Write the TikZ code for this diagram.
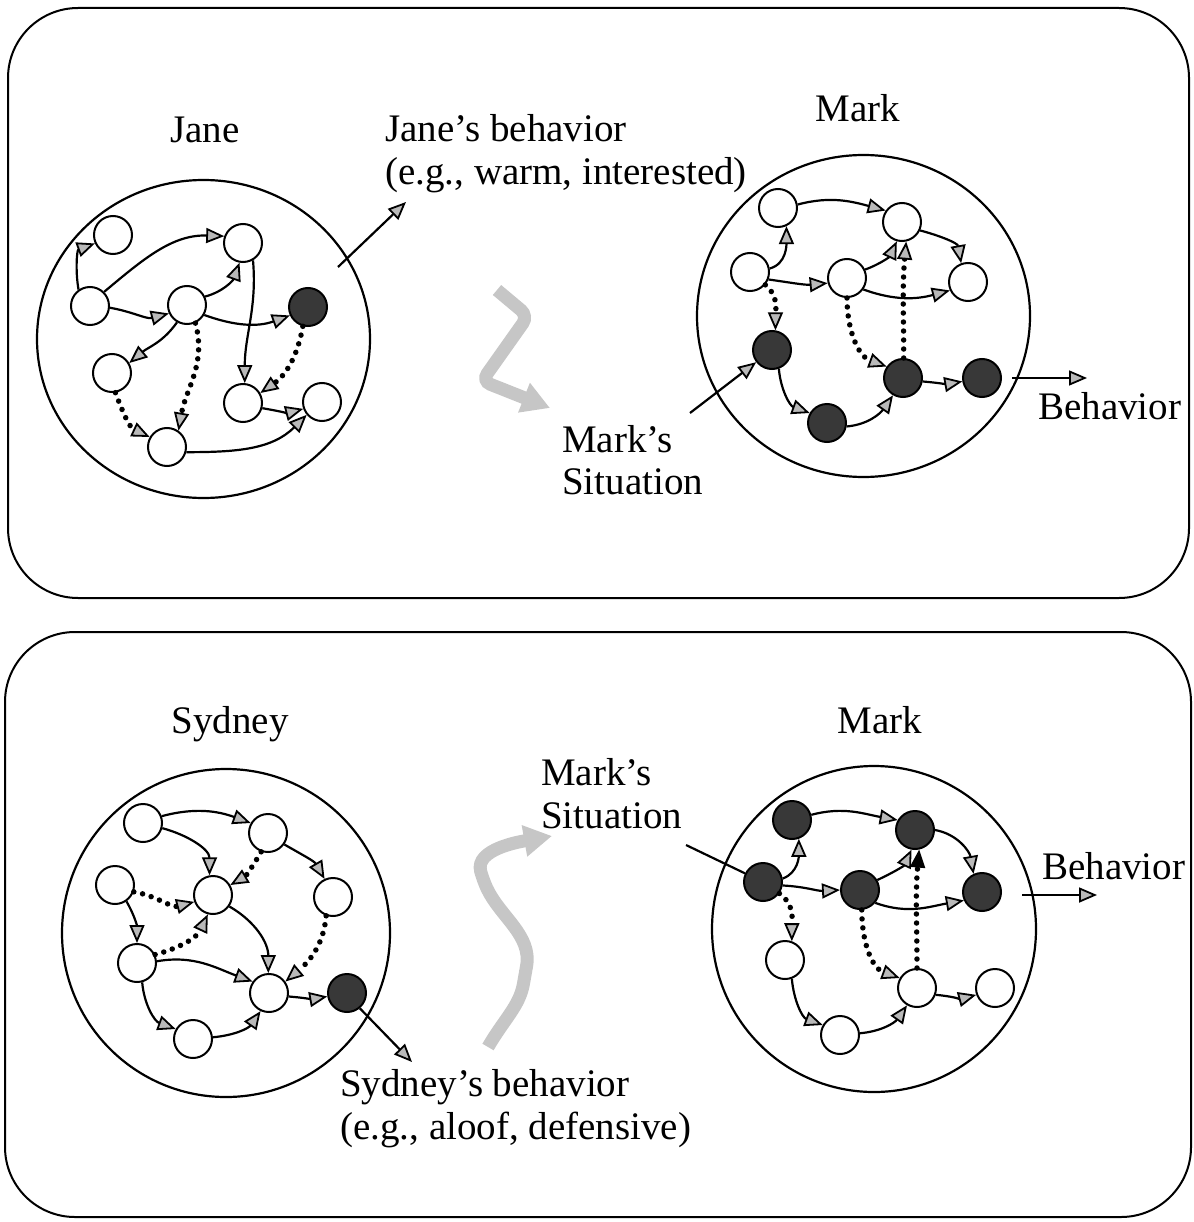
\documentclass[tikz,border=0pt]{standalone}
\usepackage{fontspec}
\setmainfont{Liberation Serif}
\usetikzlibrary{arrows.meta,shapes.geometric}
\begin{document}
\begin{tikzpicture}[x=1pt,y=1pt,
  >={Triangle[length=18pt,width=15pt,fill=gray!55,line width=1.8pt]},
  panel/.style={draw,line width=2pt,rounded corners=70pt},
  bigc/.style={draw,ellipse,line width=2.2pt,inner sep=0pt},
  sn/.style={draw,circle,minimum size=38pt,inner sep=0pt,line width=2pt,fill=white},
  dn/.style={sn,fill=black!78},
  edge/.style={draw,line width=2.2pt,->},
  dotedge/.style={draw,line width=5.5pt,dash pattern=on 0pt off 9pt,line cap=round,->},
  plainline/.style={draw,line width=2.2pt},
  wavy/.style={draw=gray!45,line width=13pt,rounded corners=9pt,-{Triangle[length=28pt,width=30pt,fill=gray!45]}},
  txt/.style={font=\fontsize{39}{44}\selectfont,inner sep=0pt}]
\useasboundingbox (0,0) rectangle (1193,-1222);

% panels
\draw[panel] (8,-8) rectangle (1189,-598);
\draw[panel] (5,-632) rectangle (1191,-1217);

% big circles
\node[bigc,minimum width=333pt,minimum height=318pt] (janec) at (203.5,-339) {};
\node[bigc,minimum width=333pt,minimum height=322pt] (markc) at (863.5,-316) {};
\node[bigc,minimum width=328pt,minimum height=328pt] (sydc) at (226,-933) {};
\node[bigc,minimum width=324pt,minimum height=326pt] (markd) at (874,-929) {};

% texts top
\node[txt,anchor=base] (tjane) at (205,-143) {Jane};
\node[txt,anchor=base west] (tjb1) at (385,-142) {Jane’s behavior};
\node[txt,anchor=base west] (tjb2) at (385,-185) {(e.g., warm, interested)};
\node[txt,anchor=base] (tmark) at (858,-122) {Mark};
\node[txt,anchor=base west] (tms1) at (562,-452) {Mark’s};
\node[txt,anchor=base west] (tms2) at (562,-494) {Situation};
\node[txt,anchor=base west] (tbeh) at (1038,-419) {Behavior};
% texts bottom
\node[txt,anchor=base] (tsyd) at (230,-733) {Sydney};
\node[txt,anchor=base] (tmark2) at (880,-733) {Mark};
\node[txt,anchor=base west] (tms3) at (541,-785) {Mark’s};
\node[txt,anchor=base west] (tms4) at (541,-828) {Situation};
\node[txt,anchor=base west] (tbeh2) at (1042,-879) {Behavior};
\node[txt,anchor=base west] (tsb1) at (340,-1096) {Sydney’s behavior};
\node[txt,anchor=base west] (tsb2) at (340,-1139) {(e.g., aloof, defensive)};

% Jane nodes
\node[sn] (J1) at (113,-235) {};
\node[sn] (J2) at (243,-243) {};
\node[sn] (J3) at (90,-306) {};
\node[sn] (J4) at (187,-305) {};
\node[dn] (J5) at (308,-307) {};
\node[sn] (J6) at (112,-373) {};
\node[sn] (J7) at (243,-403) {};
\node[sn] (J8) at (322,-402) {};
\node[sn] (J9) at (167,-447) {};
\draw[edge] (J3.125) to[out=100,in=200] (J1.205);
\draw[edge] (J3.45) to[out=40,in=178] (J2.160);
\draw[edge] (J3.-5) to[out=-10,in=195] (J4.205);
\draw[edge] (J4.25) to[out=15,in=250] (J2.260);
\draw[edge] (J4.-30) to[out=-20,in=200] (J5.205);
\draw[edge] (J4.240) to[out=235,in=40] (J6.30);
\draw[dotedge] (J4.-65) to[out=-75,in=80] (J9.55);
\draw[edge] (J2.-60) to[out=-85,in=90] (J7.85);
\draw[dotedge] (J5.255) to[out=-100,in=35] (J7.30);
\draw[dotedge] (J6.-80) to[out=-70,in=155] (J9.150);
\draw[edge] (J7.-15) to[out=-10,in=195] (J8.200);
\draw[edge] (J9.-15) to[out=0,in=225] (J8.220);
\coordinate (jo1) at (338,-267);
\coordinate (jo2) at (406,-202);
\draw[edge] (jo1) -- (jo2);

% Mark top nodes
\node[sn] (M1) at (778,-208) {};
\node[sn] (M2) at (902,-222) {};
\node[sn] (M3) at (750,-272) {};
\node[sn] (M4) at (847,-278) {};
\node[sn] (M5) at (968,-282) {};
\node[dn] (M6) at (772,-350) {};
\node[dn] (M7) at (903,-378) {};
\node[dn] (M8) at (982,-378) {};
\node[dn] (M9) at (827,-423) {};
\draw[edge] (M1.10) to[out=15,in=165] (M2.145);
\draw[edge] (M3.10) to[out=15,in=270] (M1.295);
\draw[edge] (M3.-22) to[out=-8,in=185] (M4.195);
\draw[dotedge] (M3.-40) to[out=-40,in=90] (M6.80);
\draw[edge] (M4.25) to[out=20,in=245] (M2.255);
\draw[edge] (M4.-35) to[out=-20,in=195] (M5.205);
\draw[edge] (M2.-25) to[out=-15,in=100] (M5.110);
\draw[dotedge] (M4.270) to[out=-90,in=160] (M7.145);
\draw[dotedge] (M7.88) to[out=90,in=-95] (M2.282);
\draw[edge] (M7.-10) to[out=-5,in=190] (M8.190);
\draw[edge] (M6.-70) to[out=-85,in=160] (M9.150);
\draw[edge] (M9.-10) to[out=5,in=235] (M7.240);
\coordinate (ms) at (690,-413);
\draw[edge] (ms) -- (M6);
\coordinate (mb1) at (1012,-378);
\coordinate (mb2) at (1087,-378);
\draw[edge] (mb1) -- (mb2);

% Sydney nodes
\node[sn] (S1) at (143,-823) {};
\node[sn] (S2) at (268,-833) {};
\node[sn] (S3) at (115,-885) {};
\node[sn] (S4) at (213,-895) {};
\node[sn] (S5) at (333,-897) {};
\node[sn] (S6) at (137,-963) {};
\node[sn] (S7) at (269,-993) {};
\node[dn] (S8) at (347,-993) {};
\node[sn] (S9) at (193,-1039) {};
\draw[edge] (S1.20) to[out=15,in=160] (S2.150);
\draw[edge] (S1.-15) to[out=-15,in=90] (S4.100);
\draw[dotedge] (S2.250) to[out=240,in=30] (S4.30);
\draw[edge] (S2.-35) to[out=-30,in=120] (S5.115);
\draw[dotedge] (S3.-20) to[out=-10,in=195] (S4.200);
\draw[edge] (S3.-55) to[out=-60,in=90] (S6.90);
\draw[dotedge] (S6.25) to[out=15,in=245] (S4.255);
\draw[edge] (S4.-35) to[out=-30,in=90] (S7.92);
\draw[dotedge] (S5.250) to[out=265,in=40] (S7.35);
\draw[edge] (S6.5) to[out=10,in=160] (S7.145);
\draw[edge] (S6.-75) to[out=-85,in=160] (S9.150);
\draw[edge] (S9.5) to[out=5,in=235] (S7.245);
\draw[edge] (S7.-10) to[out=-5,in=190] (S8.190);
\coordinate (sb) at (412,-1062);
\draw[edge] (S8.-50) -- (sb);

% Mark bottom nodes
\node[dn] (B1) at (792,-820) {};
\node[dn] (B2) at (915,-830) {};
\node[dn] (B3) at (763,-882) {};
\node[dn] (B4) at (860,-890) {};
\node[dn] (B5) at (982,-892) {};
\node[sn] (B6) at (785,-960) {};
\node[sn] (B7) at (917,-988) {};
\node[sn] (B8) at (995,-988) {};
\node[sn] (B9) at (840,-1035) {};
\draw[edge] (B1.15) to[out=15,in=170] (B2.150);
\draw[edge] (B3.10) to[out=20,in=270] (B1.290);
\draw[edge] (B3.-10) to[out=-3,in=183] (B4.180);
\draw[dotedge] (B3.-35) to[out=-35,in=90] (B6.70);
\draw[edge] (B4.30) to[out=25,in=245] (B2.260);
\draw[edge] (B2.0) to[out=-10,in=100] (B5.115);
\draw[edge] (B4.-40) to[out=-20,in=190] (B5.205);
\draw[dotedge] (B4.-85) to[out=-90,in=160] (B7.150);
\draw[dotedge,-{Triangle[length=18pt,width=15pt,fill=black,line width=1.8pt]}] (B7.90) to[out=90,in=-95] (B2.282);
\draw[edge] (B6.-70) to[out=-85,in=160] (B9.150);
\draw[edge] (B9.5) to[out=5,in=235] (B7.240);
\draw[edge] (B7.-20) to[out=-5,in=195] (B8.200);
\coordinate (bs) at (686,-845);
\draw[plainline] (bs) -- (B3);
\coordinate (bb1) at (1022,-895);
\coordinate (bb2) at (1097,-895);
\draw[edge] (bb1) -- (bb2);

% wavy arrows
\draw[wavy] (497,-290) -- (528,-316) -- (482,-381) -- (550,-408);
\draw[wavy] (488,-1047) to[out=60,in=-100] (525,-975) to[out=80,in=-65] (483,-880) to[out=105,in=190] (552,-836);
\end{tikzpicture}
\end{document}
